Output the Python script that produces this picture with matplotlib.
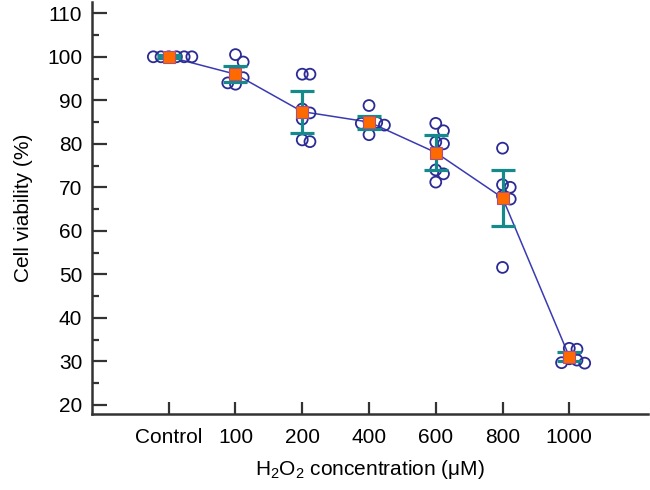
import numpy as np
import matplotlib.pyplot as plt
from matplotlib.ticker import MultipleLocator

plt.rcParams['font.family'] = ['Liberation Sans', 'DejaVu Sans']
plt.rcParams['mathtext.fontset'] = 'custom'
plt.rcParams['mathtext.rm'] = 'Liberation Sans'
plt.rcParams['mathtext.default'] = 'regular'

groups = ['Control', '100', '200', '400', '600', '800', '1000']
viab = [
    [100, 100, 100, 100, 100, 100],
    [100.5, 98.8, 95.6, 95.2, 94.0, 93.7],
    [96.0, 96.0, 88.0, 87.1, 85.7, 80.9, 80.5],
    [88.8, 85.1, 84.9, 84.7, 84.3, 82.1],
    [84.7, 83.0, 80.4, 80.0, 74.0, 73.1, 71.2],
    [79.0, 70.6, 70.0, 68.0, 67.3, 51.6],
    [33.0, 32.8, 30.6, 30.3, 29.7, 29.6],
]
means = [100.0, 96.0, 87.4, 85.0, 78.0, 67.6, 31.1]
errs = [0.3, 1.8, 4.85, 1.5, 4.1, 6.4, 1.05]

fig = plt.figure(figsize=(6.5, 4.9), dpi=100)
ax = fig.add_axes([0.1415, 0.155, 0.8555, 0.841])
ax.set_xlim(-1.15, 7.18)
ax.set_ylim(17.9, 112.6)

# simple beeswarm in pixel space
xpx, ypx, d = 66.7, 4.35, 11.0
step = 0.7 * d
def swarm(vals):
    placed = []
    offs = []
    for v in vals:
        k = 0
        while True:
            found = None
            for o in ([0] if k == 0 else [k * step, -k * step]):
                if all((o - po) ** 2 + ((v - pv) * ypx) ** 2 >= step ** 2 for po, pv in placed):
                    found = o
                    break
            if found is not None:
                break
            k += 1
        placed.append((found, v))
        offs.append(found / xpx)
    return offs

x = np.arange(len(groups))
for i, vals in enumerate(viab):
    offs = swarm(vals)
    ax.scatter(i + np.array(offs), vals, s=62, facecolors='none',
               edgecolors='#2b2b95', linewidths=1.3, zorder=3)

ax.plot(x, means, color='#3a3ab4', lw=1.1, zorder=2)
ax.errorbar(x, means, yerr=errs, fmt='none', ecolor='#168a8a',
            elinewidth=2.3, capsize=8.5, capthick=2.3, zorder=4)
ax.plot(x, means, 's', ms=8.5, mfc='#ff6a00', mec='#b0507a', mew=0.8,
        ls='none', zorder=5)

ax.set_xticks(x)
ax.set_xticklabels(groups)
ax.yaxis.set_major_locator(MultipleLocator(10))
ax.yaxis.set_minor_locator(MultipleLocator(5))
ax.set_yticks(np.arange(20, 111, 10))
ax.tick_params(axis='both', direction='in', labelsize=15, color='#333333',
               width=1.6, length=9)
ax.tick_params(axis='y', which='major', length=11, pad=7)
ax.tick_params(axis='y', which='minor', direction='in', length=5,
               width=1.6, color='#333333')
ax.tick_params(axis='x', pad=10)

for s in ['top', 'right']:
    ax.spines[s].set_visible(False)
for s in ['left', 'bottom']:
    ax.spines[s].set_linewidth(1.8)
    ax.spines[s].set_color('#333333')

ax.set_ylabel('Cell viability (%)', fontsize=15, labelpad=10)
ax.set_xlabel('H$_2$O$_2$ concentration (μM)', fontsize=15, labelpad=8)

fig.savefig('out.png', dpi=100)
